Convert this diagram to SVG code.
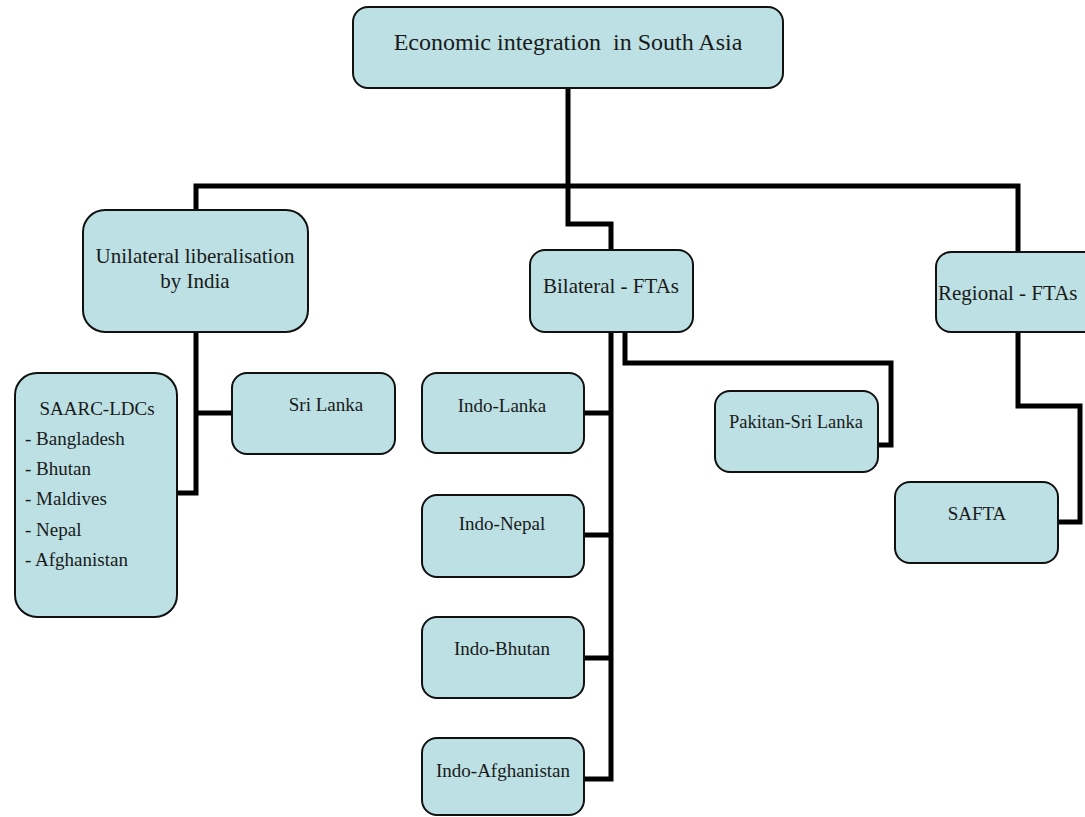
<svg xmlns="http://www.w3.org/2000/svg" width="1085" height="817" viewBox="0 0 1085 817">
<style>
.box{fill:#bce0e3;stroke:#111;stroke-width:2}
text{font-family:'Liberation Serif','DejaVu Serif',serif;fill:#1a1a1a}
.c{text-anchor:middle}
.big{font-size:24px}
.mid{font-size:21px}
.sm{font-size:19px}
.con{fill:none;stroke:#000;stroke-width:5;stroke-linejoin:miter}
</style>
<rect width="1085" height="817" fill="#ffffff"/>
<g id="connectors" class="con">
<path d="M568,88 V224 H611 V250"/>
<path d="M196,211 V186 H1018 V252"/>
<path d="M196,332 V493 H177"/>
<path d="M196,413 H232"/>
<path d="M611,332 V779 H584"/>
<path d="M584,413 H611"/>
<path d="M584,535 H611"/>
<path d="M584,658 H611"/>
<path d="M625,332 V363 H891 V445 H878"/>
<path d="M1018,332 V406 H1080 V522 H1058"/>
</g>
<g id="root">
<rect class="box" x="353" y="7" width="430" height="81" rx="15"/>
<text class="c big" x="568" y="50" xml:space="preserve">Economic integration  in South Asia</text>
</g>
<g id="unilateral">
<rect class="box" x="83" y="210" width="225" height="122" rx="22"/>
<text class="c mid" x="195" y="263">Unilateral liberalisation</text>
<text class="c mid" x="195" y="288">by India</text>
</g>
<g id="bilateral">
<rect class="box" x="530" y="250" width="163" height="82" rx="15"/>
<text class="c mid" x="611" y="293">Bilateral - FTAs</text>
</g>
<g id="regional">
<rect class="box" x="936" y="252" width="170" height="80" rx="15"/>
<text class="mid" x="938" y="300">Regional - FTAs</text>
</g>
<g id="saarc">
<rect class="box" x="15" y="373" width="162" height="244" rx="22"/>
<text class="c sm" x="97" y="415">SAARC-LDCs</text>
<text class="sm" x="25" y="445">- Bangladesh</text>
<text class="sm" x="25" y="475">- Bhutan</text>
<text class="sm" x="25" y="505">- Maldives</text>
<text class="sm" x="25" y="536">- Nepal</text>
<text class="sm" x="25" y="566">- Afghanistan</text>
</g>
<g id="srilanka">
<rect class="box" x="232" y="373" width="163" height="81" rx="15"/>
<text class="c sm" x="326" y="411">Sri Lanka</text>
</g>
<g id="indo-lanka">
<rect class="box" x="422" y="373" width="162" height="80" rx="15"/>
<text class="c sm" x="502" y="412">Indo-Lanka</text>
</g>
<g id="indo-nepal">
<rect class="box" x="422" y="495" width="162" height="82" rx="15"/>
<text class="c sm" x="502" y="530">Indo-Nepal</text>
</g>
<g id="indo-bhutan">
<rect class="box" x="422" y="617" width="162" height="81" rx="15"/>
<text class="c sm" x="502" y="655">Indo-Bhutan</text>
</g>
<g id="indo-afghanistan">
<rect class="box" x="422" y="738" width="162" height="77" rx="15"/>
<text class="c sm" x="503" y="777">Indo-Afghanistan</text>
</g>
<g id="pakistan-srilanka">
<rect class="box" x="715" y="391" width="163" height="81" rx="15"/>
<text class="c" style="font-size:18.5px" x="796" y="428">Pakitan-Sri Lanka</text>
</g>
<g id="safta">
<rect class="box" x="895" y="482" width="163" height="81" rx="15"/>
<text class="c sm" x="977" y="520">SAFTA</text>
</g>
</svg>
